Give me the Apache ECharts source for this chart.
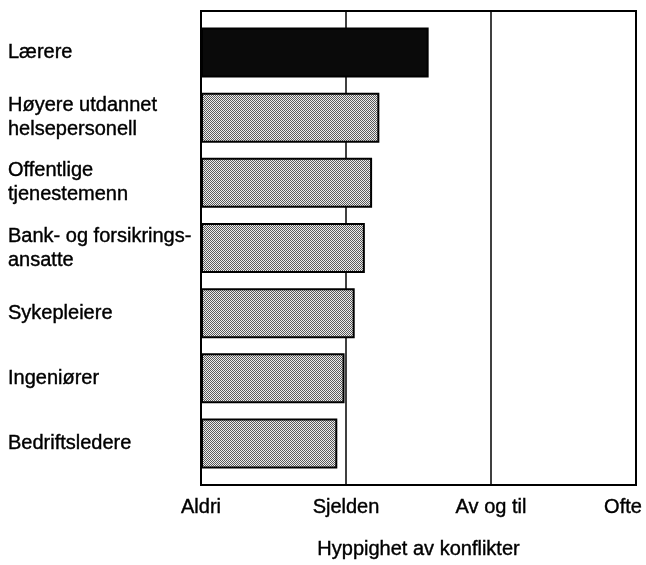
<!DOCTYPE html>
<html>
<head>
<meta charset="utf-8">
<script src="https://cdn.jsdelivr.net/npm/echarts@6/dist/echarts.min.js"></script>
<style>
    html, body { margin: 0; padding: 0; background: #fff; overflow: hidden; }
    #chart { width: 646px; height: 565px; }
</style>
</head>
<body>
<div id="chart"></div>
<script>
const categories = [
    'Lærere',
    'Høyere utdannet\nhelsepersonell',
    'Offentlige\ntjenestemenn',
    'Bank- og forsikrings-\nansatte',
    'Sykepleiere',
    'Ingeniører',
    'Bedriftsledere'
]
// 0 = Aldri, 1 = Sjelden, 2 = Av og til, 3 = Ofte
const values = [1.57, 1.23, 1.18, 1.13, 1.06, 0.99, 0.94]
const tickLabels = ['Aldri', 'Sjelden', 'Av og til', 'Ofte']

// dithered grey fill like the printed original
const pat = document.createElement('canvas')
pat.width = 2
pat.height = 2
const ctx = pat.getContext('2d')
ctx.fillStyle = '#ececec'
ctx.fillRect(0, 0, 2, 2)
ctx.fillStyle = '#5a5a5a'
ctx.fillRect(0, 0, 1, 1)
ctx.fillRect(1, 1, 1, 1)

const font = '"Liberation Sans", Arial, sans-serif'
// scanned print looks a bit heavier than plain Arial
const ink = { color: '#000', fontSize: 20, fontFamily: font, textBorderColor: '#000', textBorderWidth: 0.4 }
const chart = echarts.init(document.getElementById('chart'))

chart.setOption({
    animation: false,
    textStyle: { fontFamily: font },
    grid: [
        // frame
        { left: 201, right: 10, top: 11, bottom: 80, outerBoundsMode: 'none', show: true, borderColor: '#000', borderWidth: 2, backgroundColor: 'transparent' },
        // bars
        { left: 201, right: 10, top: 20, bottom: 89, outerBoundsMode: 'none' }
    ],
    xAxis: [
        {
            gridIndex: 0,
            type: 'value',
            min: 0,
            max: 3,
            interval: 1,
            axisLine: { show: false },
            axisTick: { show: false },
            splitLine: { show: true, lineStyle: { color: '#000', width: 1.5 } },
            axisLabel: {
                ...ink,
                margin: 12,
                // last label sits a bit left of its tick so it stays on the page
                formatter: v => v === 3 ? '{o|' + tickLabels[3] + '}' : tickLabels[Math.round(v)],
                rich: { o: { ...ink, padding: [0, 26, 0, 0] } }
            },
            name: 'Hyppighet av konflikter',
            nameLocation: 'middle',
            nameGap: 54,
            nameTextStyle: { ...ink }
        },
        { gridIndex: 1, type: 'value', min: 0, max: 3, show: false }
    ],
    yAxis: [
        { gridIndex: 0, type: 'value', show: false },
        {
            gridIndex: 1,
            type: 'category',
            inverse: true,
            data: categories,
            axisLine: { show: false },
            axisTick: { show: false },
            axisLabel: {
                ...ink,
                align: 'left',
                margin: 193,
                lineHeight: 24
            }
        }
    ],
    series: [
        {
            type: 'bar',
            xAxisIndex: 1,
            yAxisIndex: 1,
            barWidth: 50,
            data: values.map((v, i) => i === 0
                ? { value: v, itemStyle: { color: '#0a0a0a' } }
                : v),
            itemStyle: {
                color: { image: pat, repeat: 'repeat' },
                borderColor: '#000',
                borderWidth: 2
            }
        }
    ]
})
</script>
</body>
</html>
